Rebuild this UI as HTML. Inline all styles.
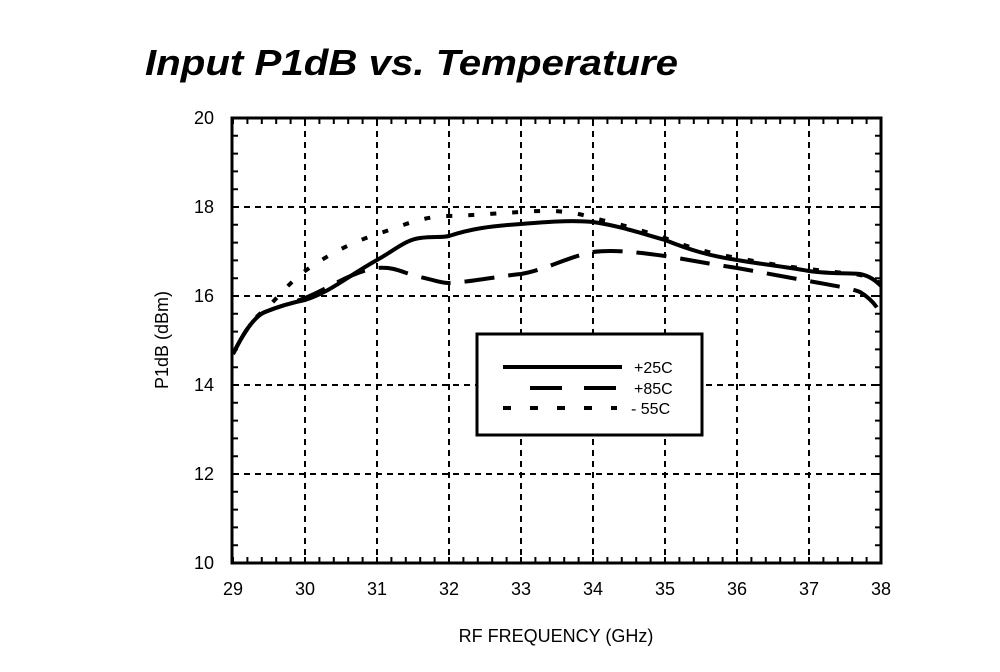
<!DOCTYPE html>
<html><head><style>body{margin:0;background:#fff}</style></head><body>
<svg width="1000" height="667" xmlns="http://www.w3.org/2000/svg" font-family="Liberation Sans, Arial, sans-serif">
<rect width="1000" height="667" fill="#fff"/>
<text x="145" y="75" font-size="36" font-weight="bold" font-style="italic" textLength="533" lengthAdjust="spacingAndGlyphs">Input P1dB vs. Temperature</text>
<g stroke="#000" stroke-width="2" stroke-dasharray="6,5">
<line x1="305" y1="120" x2="305" y2="561"/><line x1="377" y1="120" x2="377" y2="561"/>
<line x1="449" y1="120" x2="449" y2="561"/><line x1="521" y1="120" x2="521" y2="561"/>
<line x1="593" y1="120" x2="593" y2="561"/><line x1="665" y1="120" x2="665" y2="561"/>
<line x1="737" y1="120" x2="737" y2="561"/><line x1="809" y1="120" x2="809" y2="561"/>
<line x1="233" y1="207" x2="880" y2="207"/><line x1="233" y1="296" x2="880" y2="296"/>
<line x1="233" y1="385" x2="880" y2="385"/><line x1="233" y1="474" x2="880" y2="474"/>
</g>
<g stroke="#000" stroke-width="6">
<line x1="233" y1="121" x2="880" y2="121" stroke-dasharray="2,12.4" stroke-dashoffset="-13.4"/>
<line x1="233" y1="560" x2="880" y2="560" stroke-dasharray="2,12.4" stroke-dashoffset="-13.4"/>
<line x1="235" y1="118" x2="235" y2="563" stroke-dasharray="2,15.8" stroke-dashoffset="-16.8"/>
<line x1="878" y1="118" x2="878" y2="563" stroke-dasharray="2,15.8" stroke-dashoffset="-16.8"/>
</g>
<rect x="232" y="118" width="649" height="445" fill="none" stroke="#000" stroke-width="3"/>
<g font-size="18" text-anchor="end">
<text x="214" y="124">20</text><text x="214" y="213">18</text><text x="214" y="302">16</text>
<text x="214" y="391">14</text><text x="214" y="480">12</text><text x="214" y="569">10</text>
</g>
<g font-size="18" text-anchor="middle">
<text x="233" y="595">29</text><text x="305" y="595">30</text><text x="377" y="595">31</text>
<text x="449" y="595">32</text><text x="521" y="595">33</text><text x="593" y="595">34</text>
<text x="665" y="595">35</text><text x="737" y="595">36</text><text x="809" y="595">37</text><text x="881" y="595">38</text>
</g>
<text x="556" y="642" font-size="18" text-anchor="middle">RF FREQUENCY (GHz)</text>
<text transform="translate(168,340) rotate(-90)" font-size="18" text-anchor="middle">P1dB (dBm)</text>
<g fill="none" stroke="#000" stroke-width="4" stroke-linejoin="round">
<path d="M233,354 C245,330 255,316 265,312 C280,306 295,302 305,300 C330,292 345,278 377,260 C395,250 405,240 420,238 C435,236 440,238 449,236 C470,229 490,226 521,224 C545,222 570,220 593,222 C620,226 640,233 665,240 C690,250 710,256 737,260 C760,264 780,266 809,271 C830,274 850,273 860,274 C870,276 876,281 881,286"/>
<path d="M233,354 C245,330 255,316 265,312 C280,306 295,302 305,298 C330,288 350,272 377,268 C395,266 405,274 420,277 C435,280 440,283 449,283 C470,282 500,276 521,274 C545,270 570,256 593,252 C610,250 630,251 665,256 C690,260 710,264 737,268 C760,272 790,278 809,281 C830,285 850,288 860,292 C870,298 876,305 881,314" stroke-dasharray="30,14"/>
<path d="M233,354 C245,330 255,316 265,310 C280,295 290,282 305,271 C325,257 345,245 377,234 C395,229 420,216 449,216 C480,215 500,213 521,212 C545,210 570,210 593,218 C620,224 640,230 665,238 C690,248 710,253 737,258 C760,262 780,266 809,269 C830,272 850,273 860,275 C870,277 876,280 881,284" stroke-dasharray="6,16"/>
</g>
<rect x="477" y="334" width="225" height="101" fill="#fff" stroke="#000" stroke-width="3"/>
<g stroke="#000" stroke-width="4">
<line x1="503" y1="367" x2="622" y2="367"/>
<line x1="530" y1="388" x2="562" y2="388"/><line x1="584" y1="388" x2="616" y2="388"/>
<line x1="503" y1="408" x2="617" y2="408" stroke-dasharray="8,19"/>
</g>
<g font-size="16">
<text x="634" y="373">+25C</text><text x="634" y="394">+85C</text><text x="631" y="414">- 55C</text>
</g>
</svg>
</body></html>
